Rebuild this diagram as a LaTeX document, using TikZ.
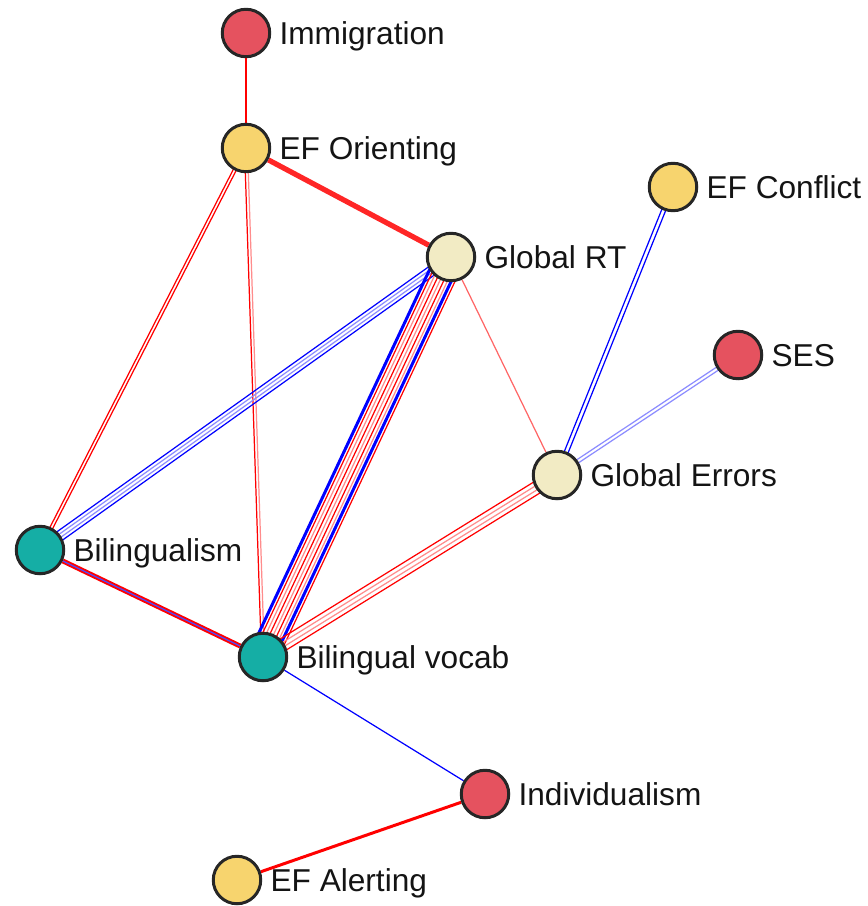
\documentclass[tikz,border=0pt]{standalone}
\usepackage{fontspec}
\setmainfont{Liberation Sans}
\usetikzlibrary{calc,positioning,backgrounds}
\definecolor{demogred}{HTML}{E5525F}
\definecolor{efyellow}{HTML}{F7D46E}
\definecolor{sumbeige}{HTML}{F2EBC4}
\definecolor{bilteal}{HTML}{15AEA5}
\tikzstyle{factornode} = [draw=black!85,line width=1.7pt,circle,minimum size=0.95cm,inner sep=0pt]
\tikzstyle{demog} = [factornode,fill=demogred]
\tikzstyle{exec} = [factornode,fill=efyellow]
\tikzstyle{summary} = [factornode,fill=sumbeige]
\tikzstyle{bilang} = [factornode,fill=bilteal]
\tikzstyle{varname} = [inner sep=0pt,text=black!92,font=\fontsize{18}{20}\selectfont,text height=13pt,text depth=0pt]
\tikzstyle{posedge} = [red,line width=0.7pt]
\tikzstyle{posedgel} = [red!45,line width=0.7pt]
\tikzstyle{negedge} = [blue,line width=0.7pt]
\tikzstyle{negedgel} = [blue!45,line width=0.7pt]
\tikzstyle{negedgethick} = [blue,line width=1.7pt]
% parallel strands between two nodes: offset/style pairs
\newcommand{\strands}[3]{%
  \foreach \off/\sty in {#3}
    \draw[\sty] ($(#1)!\off!90:(#2)$) -- ($(#2)!\off!-90:(#1)$);}

\begin{document}
\begin{tikzpicture}[x=0.02cm,y=-0.02cm]
  \useasboundingbox (0,0) rectangle (868,906);

  \node (imm)[demog] at (246,33) {};
  \node (efo)[exec] at (246,148) {};
  \node (efc)[exec] at (673,187) {};
  \node (grt)[summary] at (451,257) {};
  \node (ses)[demog] at (738,355) {};
  \node (gerr)[summary] at (557,475) {};
  \node (bil)[bilang] at (40,550) {};
  \node (bvoc)[bilang] at (263,657) {};
  \node (ind)[demog] at (485,794) {};
  \node (efa)[exec] at (237,880) {};

  \node (imm-t)[varname,right=0.16cm of imm] {Immigration};
  \node (efo-t)[varname,right=0.16cm of efo] {EF Orienting};
  \node (efc-t)[varname,right=0.16cm of efc] {EF Conflict};
  \node (grt-t)[varname,right=0.16cm of grt] {Global RT};
  \node (ses-t)[varname,right=0.16cm of ses] {SES};
  \node (gerr-t)[varname,right=0.16cm of gerr] {Global Errors};
  \node (bil-t)[varname,right=0.16cm of bil] {Bilingualism};
  \node (bvoc-t)[varname,right=0.16cm of bvoc] {Bilingual vocab};
  \node (ind-t)[varname,right=0.16cm of ind] {Individualism};
  \node (efa-t)[varname,right=0.16cm of efa] {EF Alerting};

  \begin{scope}[on background layer]
    \draw[posedge] (imm) -- (efo);
    \draw[red!85,line width=3pt] (efo) -- (grt);
    \strands{efo}{bil}{-0.03cm/posedge,0.03cm/posedge}
    \strands{efo}{bvoc}{-0.03cm/posedge,0.03cm/posedgel}
    \strands{grt}{bil}{-0.1cm/negedge,-0.034cm/negedgel,0.034cm/negedgel,0.1cm/negedge}
    \strands{grt}{bvoc}{-0.28cm/negedgethick,-0.21cm/posedge,-0.14cm/posedgel,-0.07cm/posedge,0cm/posedgel,0.07cm/posedge,0.14cm/posedgel,0.21cm/negedgethick,0.28cm/posedge}
    \draw[red!60,line width=0.7pt] (grt) -- (gerr);
    \strands{efc}{gerr}{-0.04cm/negedge,0.04cm/negedge}
    \strands{ses}{gerr}{-0.035cm/negedgel,0.035cm/negedgel}
    \strands{gerr}{bvoc}{-0.126cm/posedge,-0.042cm/posedgel,0.042cm/posedgel,0.126cm/posedge}
    \draw[red,line width=2.8pt] (bil) -- (bvoc);
    \draw[blue!70,line width=0.7pt] (bil) -- (bvoc);
    \draw[negedge] (bvoc) -- (ind);
    \draw[red,line width=1.7pt] (ind) -- (efa);
  \end{scope}
\end{tikzpicture}
\end{document}
